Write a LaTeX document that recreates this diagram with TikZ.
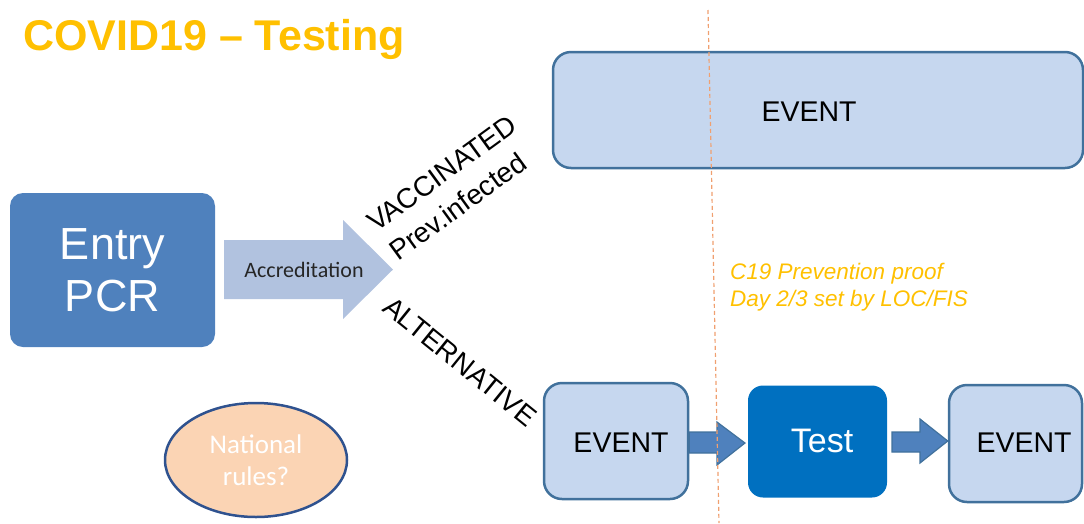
\documentclass[tikz,border=0pt]{standalone}
\usepackage{fontspec}
\setmainfont{Liberation Sans}
\newfontfamily\calib{Carlito}
\usetikzlibrary{shapes.geometric}
\definecolor{ttl}{HTML}{FFC000}
\definecolor{entryblue}{HTML}{4F81BD}
\definecolor{testblue}{HTML}{0070C0}
\definecolor{evfill}{HTML}{C6D7EF}
\definecolor{evborder}{HTML}{41719C}
\definecolor{accfill}{HTML}{B1C2DF}
\definecolor{peach}{HTML}{FBD4B4}
\definecolor{ellborder}{HTML}{2F528F}
\definecolor{dashcol}{HTML}{F0A070}
\begin{document}
\begin{tikzpicture}[x=1pt,y=-1pt,
  evbox/.style={draw=evborder, line width=2.5pt, fill=evfill, rounded corners=18pt, inner sep=0pt},
  evtext/.style={font=\fontsize{28.5}{33}\selectfont, text=black, inner sep=0pt},
  rottext/.style={font=\fontsize{28}{32}\selectfont, text=black, inner sep=0pt, anchor=base west},
  orangetext/.style={font=\fontsize{22.5}{27}\selectfont\itshape, text=ttl, inner sep=0pt, anchor=base west},
  smallarrow/.style={fill=entryblue, draw=evborder, line width=1.2pt, line join=miter},
]
\useasboundingbox (0,0) rectangle (1084,523);

% title
\node[anchor=base west, inner sep=0pt, text=ttl, font=\fontsize{43}{50}\selectfont\bfseries] (title) at (23,50) {COVID19 – Testing};

% Entry PCR
\node[fill=entryblue, rounded corners=13pt, minimum width=205pt, minimum height=154pt, inner sep=0pt,
      text=white, align=center, font=\fontsize{45}{52}\selectfont] (entry) at (112.5,270) {Entry\\PCR};

% big accreditation arrow
\fill[accfill] (224,240) -- (343,240) -- (343,220) -- (393,269.5) -- (343,319) -- (343,299) -- (224,299) -- cycle;
\node[font=\calib\fontsize{22}{26}\selectfont, text=black!85, inner sep=0pt] (acc) at (304,270) {Accreditation};

% branch labels
\node[rottext, rotate=36] (vac) at (376,233) {VACCINATED};
\node[rottext, rotate=36] (prev) at (398,262) {Prev.infected};
\node[rottext, rotate=-39] (alt) at (381,310) {ALTERNATIVE};

% top event
\node[evbox, minimum width=530pt, minimum height=116pt] (ev1) at (818,110) {};
\node[evtext] (ev1t) at (809,112) {EVENT};

% orange note
\node[orangetext] (note1) at (730,279) {C19 Prevention proof};
\node[orangetext] (note2) at (730,306) {Day 2/3 set by LOC/FIS};

% bottom row
\node[evbox, minimum width=144pt, minimum height=116pt] (ev2) at (616,441) {};
\node[evtext] (ev2t) at (621,442.5) {EVENT};
\node[fill=testblue, rounded corners=15pt, minimum width=139pt, minimum height=112pt, inner sep=0pt] (test) at (817.5,441.5) {};
\node[text=white, font=\fontsize{34}{40}\selectfont, inner sep=0pt] (testt) at (822,440.5) {Test};
\node[evbox, minimum width=133pt, minimum height=117pt] (ev3) at (1015.5,443.5) {};
\node[evtext] (ev3t) at (1024,443) {EVENT};

% small block arrows
\path[smallarrow] (ev2.east |- 0,432) -- (717,432) -- (717,422) -- (745,443) -- (717,465) -- (717,453) -- (ev2.east |- 0,453) -- cycle;
\path[smallarrow] (892,432) -- (920,432) -- (920,419) -- (ev3.west |- 0,441) -- (920,463) -- (920,452) -- (892,452) -- cycle;

% national rules
\node[ellipse, draw=ellborder, line width=2.5pt, fill=peach, minimum width=182pt, minimum height=114pt, inner sep=0pt,
      text=white, align=center, font=\calib\fontsize{27}{32}\selectfont] (nat) at (256,460) {National\\rules?};

% dashed divider
\coordinate (d1) at (708,10);
\coordinate (d2) at (719,523);
\draw[dashcol, line width=1.2pt, dash pattern=on 4pt off 3pt] (d1) -- (d2);
\end{tikzpicture}
\end{document}
